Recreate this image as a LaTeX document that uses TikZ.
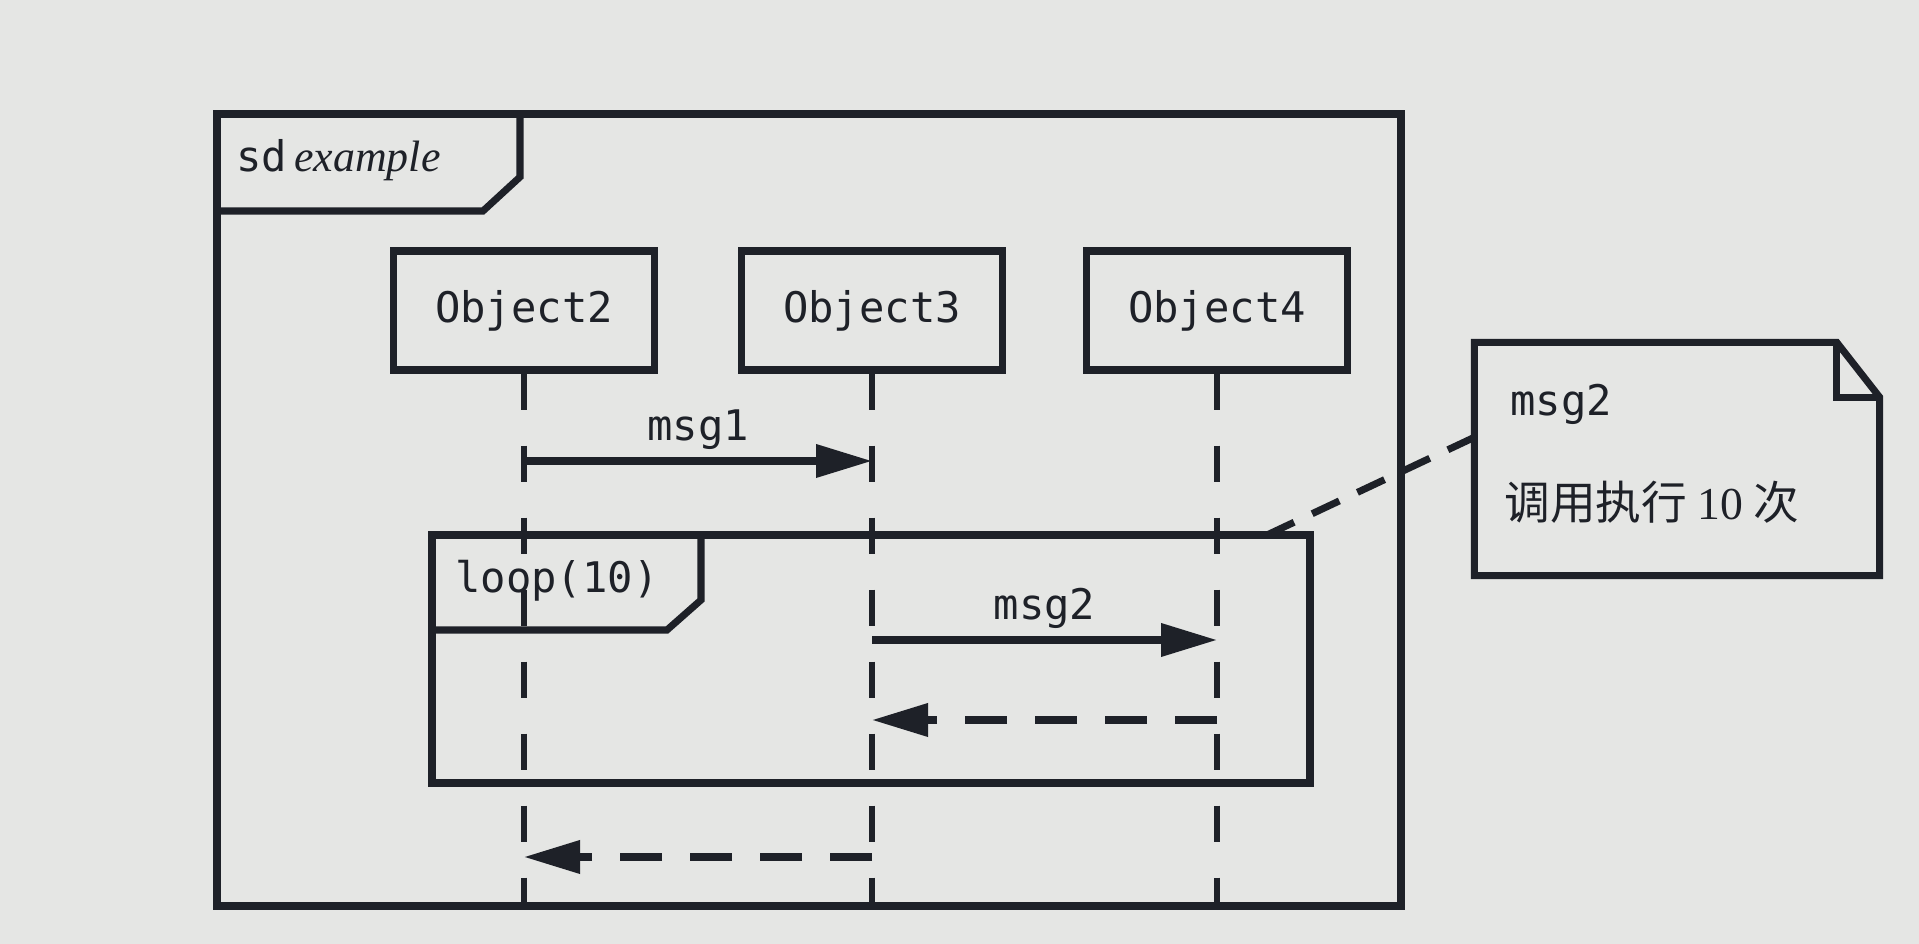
\documentclass[tikz,border=0pt]{standalone}
\usepackage{fontspec}
\setmonofont{DejaVu Sans Mono}
\newfontfamily\cjk{Noto Sans CJK SC}
\newfontfamily\timesit{Liberation Serif}
\usetikzlibrary{arrows.meta,positioning}
\definecolor{paper}{RGB}{229,230,228}
\definecolor{ink}{RGB}{30,33,40}
\tikzset{
  every picture/.style={line join=miter, >=Stealth},
  frame/.style={draw=ink, line width=2pt},
  objbox/.style={draw=ink, line width=2pt, minimum width=2.61cm, minimum height=1.19cm, font=\fontsize{12}{14}\ttfamily, text=ink},
  lifeline/.style={draw=ink, line width=1.9pt, dash pattern=on 0.36cm off 0.36cm},
  call/.style={draw=ink, line width=2pt, -{Triangle[length=5.6mm,width=3.2mm]}},
  reply/.style={draw=ink, line width=2pt, dash pattern=on 0.42cm off 0.28cm, -{Triangle[length=5.6mm,width=3.2mm]}},
  notelink/.style={draw=ink, line width=2pt, dash pattern=on 0.3cm off 0.2cm},
  lbl/.style={font=\fontsize{12}{14}\ttfamily, text=ink},
}

\begin{document}
\begin{tikzpicture}
\fill[paper](0,0) rectangle (19.19,9.44);
\useasboundingbox(0,0) rectangle (19.19,9.44);

% sd frame
\coordinate (sdNW) at (2.17,8.30);
\coordinate (sdSE) at (14.01,0.38);
\draw[frame](sdNW) rectangle (sdSE);
\draw[frame](2.17,7.33)--(4.83,7.33)--(5.20,7.67)--(5.20,8.30);
\node[lbl,anchor=west] (sdlbl) at (2.24,7.84) {sd\,{\timesit\itshape\fontsize{12.5}{15}\selectfont example}};

% objects and lifelines
\foreach \n/\x in {2/5.24,3/8.72,4/12.17}{
  \node[objbox] (obj\n) at (\x,6.335) {Object\n};
  \coordinate (end\n) at (\x,0.38);
  \draw[lifeline](obj\n)--(end\n);
}

% msg1
\coordinate (m1a) at (5.24,4.83);
\coordinate (m1b) at (8.72,4.83);
\draw[call](m1a)--node[lbl,above=-1pt] (m1lbl) {msg1} (m1b);

% loop fragment
\coordinate (lpNW) at (4.32,4.09);
\coordinate (lpSE) at (13.10,1.61);
\coordinate (lpPin) at (12.67,4.09);
\draw[frame](lpNW) rectangle (lpSE);
\draw[frame](4.32,3.14)--(6.67,3.14)--(7.01,3.44)--(7.01,4.09);
\node[lbl] (lplbl) at (5.57,3.63) {loop(10)};

\coordinate (m2a) at (8.72,3.04);
\coordinate (m2b) at (12.17,3.04);
\draw[call](m2a)--node[lbl,above=-1pt] (m2lbl) {msg2} (m2b);

\coordinate (r2a) at (12.17,2.24);
\coordinate (r2b) at (8.72,2.24);
\draw[reply](r2a)--(r2b);

% return to Object2
\coordinate (r1a) at (8.72,0.87);
\coordinate (r1b) at (5.24,0.87);
\draw[reply](r1a)--(r1b);

% note
\node[minimum width=4.04cm,minimum height=2.32cm] (note) at (16.77,4.85) {};
\draw[frame](note.north west)--([xshift=-0.43cm]note.north east)
  --([yshift=-0.55cm]note.north east)--(note.south east)--(note.south west)--cycle;
\draw[frame]([xshift=-0.43cm]note.north east)|-([yshift=-0.55cm]note.north east);
\node[lbl,anchor=west] (notemsg) at (14.98,5.40) {msg2};
\node[anchor=west,text=ink] (notetxt) at (14.92,4.42) {\cjk\fontsize{13}{15}\selectfont 调用执行 {\timesit 10} 次};
\coordinate (notePin) at (14.75,5.07);
\draw[notelink](notePin)--(lpPin);
\end{tikzpicture}
\end{document}
